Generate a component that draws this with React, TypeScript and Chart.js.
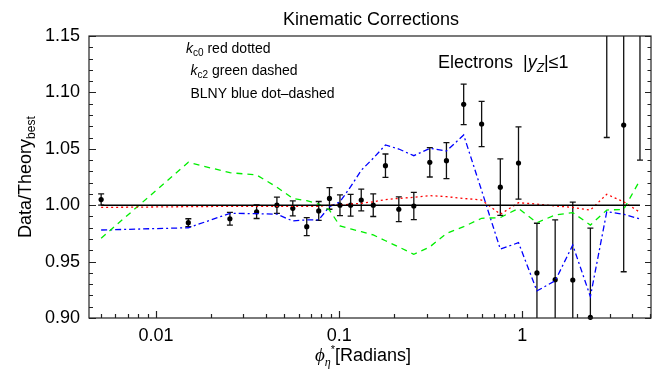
import React, { useEffect, useRef } from "react";
import { Chart, registerables } from "chart.js";

Chart.register(...registerables);

// phi* bin centres (radians)
const X_VALUES = [
  0.00501, 0.0150, 0.0253, 0.0354, 0.0457, 0.0558, 0.0665, 0.0773, 0.0885, 0.101,
  0.1155, 0.132, 0.1535, 0.179, 0.2117, 0.2557, 0.3126, 0.3854, 0.4787, 0.600,
  0.759, 0.954, 1.203, 1.513, 1.888, 2.356, 2.895, 3.582, 4.396,
];
// Data / Theory_best
const DATA_Y = [
  1.005, 0.9845, 0.988, 0.9942, 1.0, 0.9972, 0.981, 0.9949, 1.006, 1.0,
  1.0, 1.0046, 1.0, 1.035, 0.9964, 0.9993, 1.038, 1.0395, 1.0894, 1.072,
  1.016, 1.0374, 0.94, 0.934, 0.9337, 0.9006, 1.17, 1.071, 1.17,
];
const DATA_ERR = [
  0.005, 0.0035, 0.0056, 0.006, 0.0072, 0.0066, 0.008, 0.0084, 0.0096, 0.0092,
  0.0096, 0.0097, 0.01, 0.0104, 0.011, 0.012, 0.013, 0.016, 0.018, 0.02,
  0.025, 0.032, 0.044, 0.053, 0.069, 0.079, 0.11, 0.13, 0.13,
];
// k_c0 (red dotted)
const KC0 = [
  0.998, 0.9987, 0.999, 0.999, 0.999, 0.999, 0.999, 0.999, 1.0, 1.0,
  1.001, 1.0017, 1.003, 1.005, 1.006, 1.007, 1.0085, 1.0076, 1.006, 1.0046,
  0.992, 1.0022, 1.001, 0.9993, 0.998, 0.9957, 1.0097, 1.003, 0.9937,
];
// k_c2 (green dashed)
const KC2 = [
  0.9707, 1.038, 1.0288, 1.0268, 1.016, 1.006, 1.004, 1.001, 0.9957, 0.9816,
  0.979, 0.9765, 0.9736, 0.9685, 0.963, 0.9565, 0.963, 0.975, 0.981, 0.9884,
  0.989, 0.9972, 0.9845, 0.9913, 0.9934, 0.9824, 0.9957, 0.9963, 1.0223,
];
// BLNY (blue dot-dashed)
const BLNY = [
  0.978, 0.98, 0.9928, 0.9925, 0.992, 0.986, 0.987, 0.987, 0.9987, 1.003,
  1.0164, 1.031, 1.0416, 1.0534, 1.0498, 1.0439, 1.0504, 1.048, 1.0622, 1.013,
  0.961, 0.9668, 0.924, 0.933, 0.9647, 0.919, 0.9942, 0.992, 0.9878,
];
const X_TICK_LABELS = [0.01, 0.1, 1];
const X_MIN = 0.0043;
const X_MAX = 5.05;
const Y_MIN = 0.9;
const Y_MAX = 1.15;

const SANS = "'Liberation Sans', Arial, Helvetica, sans-serif";
const SERIF = "'Liberation Serif', 'DejaVu Serif', serif";

type Seg = { t: string; font: string; dy?: number };

function drawRich(ctx: CanvasRenderingContext2D, x: number, y: number, segs: Seg[], align: "left" | "center" = "left") {
  let total = 0;
  for (const s of segs) {
    ctx.font = s.font;
    total += ctx.measureText(s.t).width;
  }
  let cx = align === "center" ? x - total / 2 : x;
  ctx.textAlign = "left";
  ctx.textBaseline = "alphabetic";
  for (const s of segs) {
    ctx.font = s.font;
    ctx.fillText(s.t, cx, y + (s.dy || 0));
    cx += ctx.measureText(s.t).width;
  }
}

const decorPlugin = {
  id: "decor",
  beforeDatasetsDraw(chart: any) {
    const ctx: CanvasRenderingContext2D = chart.ctx;
    const xs = chart.scales.x;
    const ys = chart.scales.y;
    const { left, right, top, bottom } = chart.chartArea;
    ctx.save();
    ctx.beginPath();
    ctx.rect(left, top, right - left, bottom - top);
    ctx.clip();
    ctx.strokeStyle = "#111";
    ctx.lineWidth = 1.3;
    for (let i = 0; i < X_VALUES.length; i++) {
      const px = xs.getPixelForValue(X_VALUES[i]);
      const hi = ys.getPixelForValue(DATA_Y[i] + DATA_ERR[i]);
      const lo = ys.getPixelForValue(DATA_Y[i] - DATA_ERR[i]);
      ctx.beginPath();
      ctx.moveTo(px, hi);
      ctx.lineTo(px, lo);
      ctx.moveTo(px - 3, hi);
      ctx.lineTo(px + 3, hi);
      ctx.moveTo(px - 3, lo);
      ctx.lineTo(px + 3, lo);
      ctx.stroke();
    }
    ctx.restore();
  },
  afterDraw(chart: any) {
    const ctx: CanvasRenderingContext2D = chart.ctx;
    const xs = chart.scales.x;
    const ys = chart.scales.y;
    const { left, right, top, bottom } = chart.chartArea;
    ctx.save();
    // frame
    ctx.strokeStyle = "#222";
    ctx.lineWidth = 1.2;
    ctx.strokeRect(left, top, right - left, bottom - top);
    // y ticks (left and right, inward)
    for (let k = 0; k <= 25; k++) {
      const v = Y_MIN + k * 0.01;
      const py = Math.round(ys.getPixelForValue(v)) + 0.5;
      const major = k % 5 === 0;
      ctx.beginPath();
      ctx.moveTo(left, py);
      ctx.lineTo(left + (major ? 7 : 4), py);
      ctx.moveTo(right, py);
      ctx.lineTo(right - (major ? 6 : 3.5), py);
      ctx.stroke();
    }
    // x ticks (bottom, inward)
    for (let d = -3; d <= 0; d++) {
      for (let m = 1; m <= 9; m++) {
        const v = m * Math.pow(10, d);
        if (v < X_MIN || v > X_MAX) continue;
        const px = Math.round(xs.getPixelForValue(v)) + 0.5;
        ctx.beginPath();
        ctx.moveTo(px, bottom);
        ctx.lineTo(px, bottom - (m === 1 ? 7 : 4));
        ctx.stroke();
      }
    }
    ctx.fillStyle = "#000";
    // title
    drawRich(ctx, 371, 25, [{ t: "Kinematic Corrections", font: `18px ${SANS}` }], "center");
    // legend notes
    drawRich(ctx, 186, 53, [
      { t: "k", font: `italic 14px ${SANS}` },
      { t: "c0", font: `10px ${SANS}`, dy: 3 },
      { t: " red dotted", font: `14px ${SANS}` },
    ]);
    drawRich(ctx, 190.5, 74.5, [
      { t: "k", font: `italic 14px ${SANS}` },
      { t: "c2", font: `10px ${SANS}`, dy: 3 },
      { t: " green dashed", font: `14px ${SANS}` },
    ]);
    drawRich(ctx, 190.5, 98, [{ t: "BLNY blue dot\u2013dashed", font: `14px ${SANS}` }]);
    // electrons label
    drawRich(ctx, 438, 68, [
      { t: "Electrons  |", font: `18px ${SANS}` },
      { t: "y", font: `italic 18px ${SANS}` },
      { t: "Z", font: `italic 12px ${SANS}`, dy: 4 },
      { t: "|\u2264", font: `18px ${SANS}` },
      { t: "1", font: `18px ${SANS}` },
    ]);
    // x title
    drawRich(ctx, 315, 361, [
      { t: "\u03d5", font: `italic 19px ${SERIF}` },
      { t: "\u03b7", font: `italic 12px ${SERIF}`, dy: 5 },
      { t: "*", font: `11px ${SANS}`, dy: -8 },
      { t: "[Radians]", font: `18px ${SANS}` },
    ]);
    // y title
    ctx.translate(31, 238);
    ctx.rotate(-Math.PI / 2);
    drawRich(ctx, 0, 0, [
      { t: "Data/Theory", font: `18px ${SANS}` },
      { t: "best", font: `12px ${SANS}`, dy: 4 },
    ]);
    ctx.restore();
  },
};

export default function App() {
  const ref = useRef<HTMLCanvasElement>(null);
  useEffect(() => {
    if (!ref.current) return;
    const pts = (ys: number[]) => X_VALUES.map((x, i) => ({ x, y: ys[i] }));
    const chart = new Chart(ref.current, {
      type: "scatter",
      data: {
        datasets: [
          {
            label: "unity",
            data: [
              { x: X_VALUES[0], y: 1 },
              { x: X_VALUES[X_VALUES.length - 1], y: 1 },
            ],
            showLine: true,
            borderColor: "#000",
            borderWidth: 1.6,
            pointRadius: 0,
          },
          {
            label: "kc0",
            data: pts(KC0),
            showLine: true,
            borderColor: "#ff0000",
            borderWidth: 1.3,
            borderDash: [2, 3],
            pointRadius: 0,
          },
          {
            label: "kc2",
            data: pts(KC2),
            showLine: true,
            borderColor: "#00ee00",
            borderWidth: 1.3,
            borderDash: [6, 5],
            pointRadius: 0,
          },
          {
            label: "BLNY",
            data: pts(BLNY),
            showLine: true,
            borderColor: "#0000ff",
            borderWidth: 1.3,
            borderDash: [6, 3, 2, 3],
            pointRadius: 0,
          },
          {
            label: "data",
            data: pts(DATA_Y),
            showLine: false,
            pointRadius: 2.6,
            pointBackgroundColor: "#000",
            pointBorderColor: "#000",
            pointBorderWidth: 0,
            clip: { left: 0, right: 0, top: 0, bottom: 4 } as any,
          },
        ],
      },
      options: {
        animation: false,
        responsive: false,
        devicePixelRatio: 1,
        layout: { padding: { top: 36, right: 8, left: 0, bottom: 0 } },
        plugins: { legend: { display: false }, tooltip: { enabled: false }, title: { display: false } },
        scales: {
          x: {
            type: "logarithmic",
            min: X_MIN,
            max: X_MAX,
            grid: { display: false, drawTicks: false },
            border: { display: false },
            afterBuildTicks: (s: any) => {
              s.ticks = X_TICK_LABELS.map((v) => ({ value: v }));
            },
            afterFit: (s: any) => {
              s.height = 54;
            },
            ticks: {
              padding: 7,
              color: "#000",
              font: { family: SANS, size: 18 },
              maxRotation: 0,
              autoSkip: false,
              callback: (v: any) => String(v),
            },
          },
          y: {
            type: "linear",
            min: Y_MIN,
            max: Y_MAX,
            grid: { display: false, drawTicks: false },
            border: { display: false },
            afterFit: (s: any) => {
              s.width = 89;
            },
            ticks: {
              stepSize: 0.05,
              padding: 9,
              color: "#000",
              font: { family: SANS, size: 18 },
              callback: (v: any) => Number(v).toFixed(2),
            },
          },
        },
      },
      plugins: [decorPlugin as any],
    });
    return () => chart.destroy();
  }, []);
  return (
    <div style={{ position: "fixed", left: 0, top: 0, width: 659, height: 372, background: "#fff" }}>
      <canvas ref={ref} width={659} height={372} style={{ width: 659, height: 372 }} />
    </div>
  );
}
